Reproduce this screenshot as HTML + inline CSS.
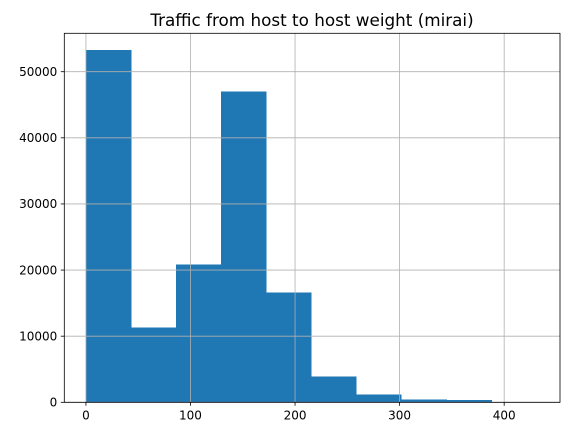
<!DOCTYPE html>
<html><head><meta charset="utf-8"><style>
html,body{margin:0;padding:0;background:#fff;}
svg{display:block;font-family:"DejaVu Sans","Liberation Sans",sans-serif;}
</style></head><body>
<svg id="chart" width="569" height="436" xmlns="http://www.w3.org/2000/svg">
<text x="312" y="26" font-size="16.8" text-anchor="middle" fill="#000">Traffic from host to host weight (mirai)</text>
<g id="bars" shape-rendering="crispEdges"></g>
<g id="grid"></g>
<g id="axes"></g>
</svg>
<script>
const binStart = 0;
const binWidth = 43.1;
const counts = [53280, 11330, 20850, 46980, 16620, 3930, 1150, 450, 330, 20];
const xTicks = [0, 100, 200, 300, 400];
const yTicks = [0, 10000, 20000, 30000, 40000, 50000];
const yTickLabels = ["0", "10000", "20000", "30000", "40000", "50000"];

const L = 64.3, R = 560, T = 33.3, B = 402.3;
const xmin = -20.7, xmax = 453.4;
const ymax = (B - T) / 6.612 * 1000;
const x = v => L + (v - xmin) / (xmax - xmin) * (R - L);
const y = v => B - v / ymax * (B - T);
const NS = "http://www.w3.org/2000/svg";
function mk(tag, attrs, parent) {
  const e = document.createElementNS(NS, tag);
  for (const k in attrs) e.setAttribute(k, attrs[k]);
  parent.appendChild(e);
  return e;
}
const bars = document.getElementById('bars');
counts.forEach((c, i) => {
  const x0 = x(binStart + i * binWidth), x1 = x(binStart + (i + 1) * binWidth);
  const r = mk('rect', {x: x0, y: y(c), width: x1 - x0 + 0.3, height: B - y(c), fill: '#1f77b4'}, bars);
  
  
});
const grid = document.getElementById('grid');
const axes = document.getElementById('axes');
xTicks.forEach(t => {
  const gl = mk('line', {x1: x(t), x2: x(t), y1: T, y2: B, stroke: '#b0b0b0', 'stroke-width': 0.8}, grid);
  
  
  mk('line', {x1: x(t), x2: x(t), y1: B, y2: B + 3.5, stroke: '#000', 'stroke-width': 0.8}, axes);
  const tx = mk('text', {x: x(t), y: B + 17, 'font-size': 12, 'text-anchor': 'middle', fill: '#000'}, axes);
  tx.textContent = t;
  
  
});
yTicks.forEach((t, i) => {
  const gl = mk('line', {x1: L, x2: R, y1: y(t), y2: y(t), stroke: '#b0b0b0', 'stroke-width': 0.8}, grid);
  
  
  mk('line', {x1: L - 3.5, x2: L, y1: y(t), y2: y(t), stroke: '#000', 'stroke-width': 0.8}, axes);
  const tx = mk('text', {x: L - 7, y: y(t) + 4.3, 'font-size': 12, 'text-anchor': 'end', fill: '#000'}, axes);
  tx.textContent = yTickLabels[i];
  
  
});
const frame = mk('rect', {x: L, y: T, width: R - L, height: B - T, fill: 'none', stroke: '#000', 'stroke-width': 0.8}, axes);


</script>
</body></html>
